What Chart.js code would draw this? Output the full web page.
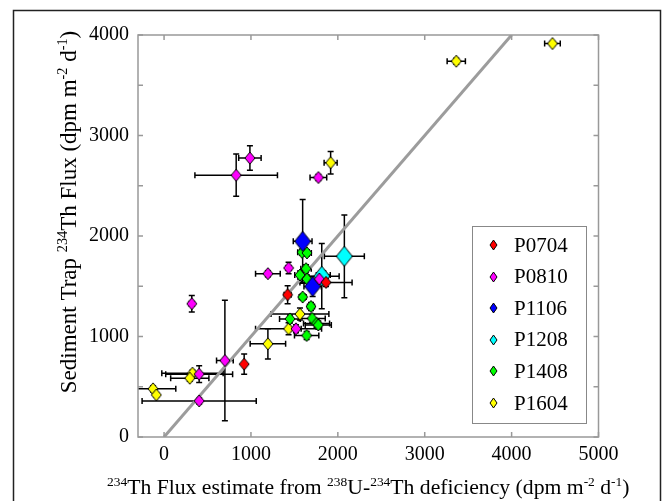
<!DOCTYPE html>
<html>
<head>
<meta charset="utf-8">
<script src="https://cdn.jsdelivr.net/npm/chart.js@4.4.1/dist/chart.umd.min.js"></script>
<style>
  body { margin: 0; background: #fff; }
  #wrap { position: relative; width: 672px; height: 501px; }
</style>
</head>
<body>
<div id="wrap"><canvas id="mycanvas"></canvas></div>
<script>
// axis ticks
var xTicks = [0, 1000, 2000, 3000, 4000, 5000];
var yTicks = [0, 500, 1000, 1500, 2000, 2500, 3000, 3500, 4000];

// series names and colours
var seriesNames = ["P0704", "P0810", "P1106", "P1208", "P1408", "P1604"];
var seriesColors = ["#ff0000", "#ff00ff", "#0000ff", "#00ffff", "#00ff00", "#ffff00"];

// P0704
var p0704X = [1864, 1422, 922];
var p0704Y = [1538, 1416, 725];
var p0704Xerr = [300, 40, 0];
var p0704Yerr = [40, 90, 100];

// P0810
var p0810X = [988, 830, 1776, 1195, 1433, 1787, 1518, 700, 404, 404, 319];
var p0810Y = [2775, 2605, 2582, 1625, 1682, 1572, 1077, 761, 625, 359, 1326];
var p0810Xerr = [129, 475, 96, 142, 30, 40, 60, 96, 385, 657, 30];
var p0810Yerr = [122, 210, 30, 30, 57, 40, 40, 600, 83, 30, 83];

// P1106
var p1106X = [1595, 1710];
var p1106Y = [1947, 1498];
var p1106Xerr = [108, 100];
var p1106Yerr = [416, 100];

// P1208
var p1208X = [2075, 1815];
var p1208Y = [1798, 1600];
var p1208Xerr = [230, 200];
var p1208Yerr = [412, 325];

// P1408
var p1408X = [1588, 1645, 1634, 1564, 1645, 1833, 1595, 1691, 1449, 1705, 1755, 1775, 1641];
var p1408Y = [1838, 1832, 1675, 1612, 1572, 1612, 1393, 1299, 1175, 1180, 1130, 1115, 1010];
var p1408Xerr = [50, 50, 60, 60, 60, 80, 40, 40, 120, 150, 150, 150, 140];
var p1408Yerr = [30, 30, 40, 40, 40, 40, 30, 40, 40, 40, 40, 40, 40];

// P1604
var p1604X = [4470, 3363, 1917, 1564, 1433, 1195, 327, 296, -127, -89];
var p1604Y = [3915, 3739, 2729, 1223, 1077, 927, 635, 585, 479, 419];
var p1604Xerr = [90, 105, 75, 333, 380, 204, 353, 220, 262, 0];
var p1604Yerr = [20, 30, 112, 60, 60, 150, 30, 30, 30, 20];

// 1:1 line
var oneToOneX = [0, 4000];
var oneToOneY = [0, 4000];

var serif = "Liberation Serif";
Chart.defaults.font.family = serif;
Chart.defaults.color = "#000";

function diamond(fill, w, h) {
	var c = document.createElement('canvas');
	c.width = w + 2;
	c.height = h + 2;
	var g = c.getContext('2d');
	g.beginPath();
	g.moveTo(c.width / 2, 1);
	g.lineTo(c.width - 1, c.height / 2);
	g.lineTo(c.width / 2, c.height - 1);
	g.lineTo(1, c.height / 2);
	g.closePath();
	g.fillStyle = fill;
	g.fill();
	g.lineWidth = 1;
	g.strokeStyle = "#000";
	g.stroke();
	return c;
}

function makePoints(xs, ys, xe, ye) {
	var pts = [];
	for (var i in xs) {
		pts.push({x: xs[i], y: ys[i], xerr: xe[i], yerr: ye[i]});
	}
	return pts;
}

var seriesData = [
	makePoints(p0704X, p0704Y, p0704Xerr, p0704Yerr),
	makePoints(p0810X, p0810Y, p0810Xerr, p0810Yerr),
	makePoints(p1106X, p1106Y, p1106Xerr, p1106Yerr),
	makePoints(p1208X, p1208Y, p1208Xerr, p1208Yerr),
	makePoints(p1408X, p1408Y, p1408Xerr, p1408Yerr),
	makePoints(p1604X, p1604Y, p1604Xerr, p1604Yerr)
];
var bigMarkers = [false, false, true, true, false, false];

var datasets = [];
for (var s = 0; s < seriesNames.length; s++) {
	datasets.push({
		label: seriesNames[s],
		data: seriesData[s],
		showLine: false,
		pointStyle: bigMarkers[s] ? diamond(seriesColors[s], 16, 20) : diamond(seriesColors[s], 10, 12),
		errorBars: true
	});
}
var line = [];
for (var i in oneToOneX) line.push({x: oneToOneX[i], y: oneToOneY[i]});
datasets.push({
	label: "1:1",
	data: line,
	showLine: true,
	borderColor: "#9c9c9c",
	borderWidth: 3,
	pointRadius: 0
});

function richText(ctx, segs, cx, cy, size) {
	var total = 0;
	segs.forEach(function(sg) {
		ctx.font = (sg.sup ? size * 0.62 : size) + "px '" + serif + "'";
		sg.w = ctx.measureText(sg.t).width;
		total += sg.w;
	});
	var x = cx - total / 2;
	ctx.textAlign = "left";
	ctx.textBaseline = "alphabetic";
	ctx.fillStyle = "#000";
	segs.forEach(function(sg) {
		ctx.font = (sg.sup ? size * 0.62 : size) + "px '" + serif + "'";
		ctx.fillText(sg.t, x, sg.sup ? cy - size * 0.38 : cy);
		x += sg.w;
	});
}

var xTitle = [{t: "234", sup: true}, {t: "Th Flux estimate from "}, {t: "238", sup: true}, {t: "U-"},
	{t: "234", sup: true}, {t: "Th deficiency (dpm m"}, {t: "-2", sup: true}, {t: " d"}, {t: "-1", sup: true}, {t: ")"}];
var yTitle = [{t: "Sediment Trap "}, {t: "234", sup: true}, {t: "Th Flux (dpm m"}, {t: "-2", sup: true},
	{t: " d"}, {t: "-1", sup: true}, {t: ")"}];

var overlay = {
	id: "overlay",
	beforeDatasetsDraw: function(chart) {
		var ctx = chart.ctx, a = chart.chartArea;
		var xs = chart.scales.x, ys = chart.scales.y;
		ctx.save();
		ctx.beginPath();
		ctx.rect(a.left, a.top, a.right - a.left, a.bottom - a.top);
		ctx.clip();
		ctx.strokeStyle = "#000";
		ctx.lineWidth = 1.5;
		var cap = 3;
		chart.data.datasets.forEach(function(ds) {
			if (!ds.errorBars) return;
			ds.data.forEach(function(p) {
				var px = xs.getPixelForValue(p.x), py = ys.getPixelForValue(p.y);
				ctx.beginPath();
				if (p.xerr > 0) {
					var x0 = xs.getPixelForValue(p.x - p.xerr), x1 = xs.getPixelForValue(p.x + p.xerr);
					ctx.moveTo(x0, py); ctx.lineTo(x1, py);
					ctx.moveTo(x0, py - cap); ctx.lineTo(x0, py + cap);
					ctx.moveTo(x1, py - cap); ctx.lineTo(x1, py + cap);
				}
				if (p.yerr > 0) {
					var y0 = ys.getPixelForValue(p.y - p.yerr), y1 = ys.getPixelForValue(p.y + p.yerr);
					ctx.moveTo(px, y0); ctx.lineTo(px, y1);
					ctx.moveTo(px - cap, y0); ctx.lineTo(px + cap, y0);
					ctx.moveTo(px - cap, y1); ctx.lineTo(px + cap, y1);
				}
				ctx.stroke();
			});
		});
		ctx.restore();
	},
	afterDraw: function(chart) {
		var ctx = chart.ctx, a = chart.chartArea;
		var xs = chart.scales.x, ys = chart.scales.y;
		ctx.save();
		// outer figure frame
		ctx.strokeStyle = "#222";
		ctx.lineWidth = 1.5;
		ctx.strokeRect(13.5, 10.5, 647, 600);
		// axes box and inward ticks
		ctx.strokeStyle = "#999";
		ctx.lineWidth = 1.5;
		ctx.strokeRect(a.left, a.top, a.right - a.left, a.bottom - a.top);
		ctx.beginPath();
		var tl = 5;
		xTicks.forEach(function(v) {
			var px = xs.getPixelForValue(v);
			ctx.moveTo(px, a.bottom); ctx.lineTo(px, a.bottom - tl);
			ctx.moveTo(px, a.top); ctx.lineTo(px, a.top + tl);
		});
		yTicks.forEach(function(v) {
			var py = ys.getPixelForValue(v);
			ctx.moveTo(a.left, py); ctx.lineTo(a.left + tl, py);
			ctx.moveTo(a.right, py); ctx.lineTo(a.right - tl, py);
		});
		ctx.stroke();
		// axis titles
		richText(ctx, xTitle, (a.left + a.right) / 2, 494, 21.7);
		ctx.save();
		ctx.translate(76, 212);
		ctx.rotate(-Math.PI / 2);
		richText(ctx, yTitle, 0, 0, 23);
		ctx.restore();
		// legend
		ctx.fillStyle = "#fff";
		ctx.fillRect(472, 226, 114, 197);
		ctx.strokeStyle = "#888";
		ctx.lineWidth = 1;
		ctx.strokeRect(472.5, 226.5, 114, 197);
		ctx.font = "21px '" + serif + "'";
		ctx.textAlign = "left";
		ctx.textBaseline = "middle";
		ctx.fillStyle = "#000";
		for (var s = 0; s < seriesNames.length; s++) {
			var ly = 245 + s * 31.6;
			var m = diamond(seriesColors[s], 7, 10);
			ctx.drawImage(m, Math.round(493 - m.width / 2), Math.round(ly - m.height / 2));
			ctx.fillText(seriesNames[s], 514, ly + 1);
		}
		ctx.restore();
	}
};

var ctx = document.getElementById("mycanvas");
var chart = new Chart(ctx, {
	type: "scatter",
	data: {datasets: datasets},
	options: {
		responsive: true,
		maintainAspectRatio: false,
		animation: false,
		layout: {padding: {left: 0, top: 35, right: 73.5, bottom: 0}},
		plugins: {legend: {display: false}, tooltip: {enabled: false}},
		scales: {
			x: {
				type: "linear",
				min: -300,
				max: 5000,
				afterBuildTicks: function(scale) { scale.ticks = xTicks.map(function(v) { return {value: v}; }); },
				afterFit: function(scale) { scale.height = 64; },
				grid: {display: false, drawTicks: false},
				border: {display: false},
				ticks: {
					color: "#000", font: {family: serif, size: 20}, padding: 6, maxRotation: 0,
					callback: function(v) { return String(v); }
				}
			},
			y: {
				type: "linear",
				min: 0,
				max: 4000,
				afterBuildTicks: function(scale) { scale.ticks = yTicks.map(function(v) { return {value: v}; }); },
				afterFit: function(scale) { scale.width = 138; },
				grid: {display: false, drawTicks: false},
				border: {display: false},
				ticks: {
					color: "#000", font: {family: serif, size: 20}, padding: 9,
					callback: function(v) { return v % 1000 === 0 ? String(v) : ""; }
				}
			}
		}
	},
	plugins: [overlay]
});
</script>
</body>
</html>
